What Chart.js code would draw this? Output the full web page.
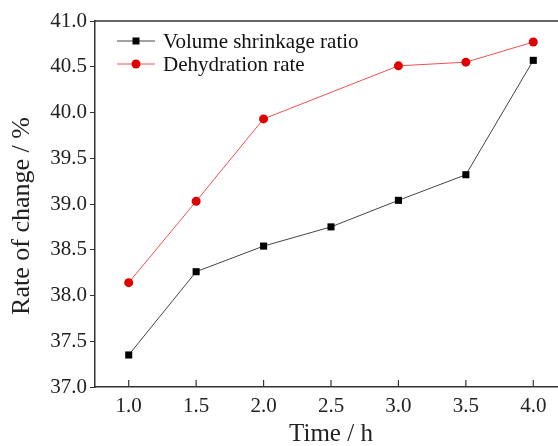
<!DOCTYPE html>
<html>
<head>
<meta charset="utf-8">
<script src="https://cdn.jsdelivr.net/npm/chart.js@4/dist/chart.umd.min.js"></script>
<style>
  html, body { margin: 0; padding: 0; background: #fff; overflow: hidden; }
  #wrap { width: 572px; height: 446px; }
</style>
</head>
<body>
<div id="wrap"><canvas id="chart" width="572" height="446"></canvas></div>
<script>
// values
var shrinkTime = [1.0, 1.5, 2.0, 2.5, 3.0, 3.5, 4.0];
var shrinkRatio = [37.35, 38.26, 38.54, 38.75, 39.04, 39.32, 40.57];
var dehydTime = [1.0, 1.5, 2.0, 3.0, 3.5, 4.0];
var dehydRate = [38.14, 39.03, 39.93, 40.51, 40.55, 40.77];
var xTicks = [1.0, 1.5, 2.0, 2.5, 3.0, 3.5, 4.0];
var yTitle = 'Rate of change / %';

function toPoints(xs, ys) {
    return xs.map(function (x, i) { return { x: x, y: ys[i] }; });
}

var serif = "'Liberation Serif', 'Times New Roman', serif";

// inward x ticks, top frame line, y title and the legend inside the plot
var extras = {
    id: 'extras',
    afterDraw: function (chart) {
        var ctx = chart.ctx;
        var area = chart.chartArea;
        var xs = chart.scales.x;
        ctx.save();
        ctx.strokeStyle = '#333';
        ctx.lineWidth = 1.5;
        ctx.beginPath();
        ctx.moveTo(area.left, area.top);
        ctx.lineTo(area.right, area.top);
        ctx.stroke();
        ctx.lineWidth = 1.2;
        xTicks.forEach(function (t) {
            var px = xs.getPixelForValue(t);
            ctx.beginPath();
            ctx.moveTo(px, area.bottom);
            ctx.lineTo(px, area.bottom - 7);
            ctx.stroke();
        });

        // y axis title, sits a bit below the middle of the axis in the original
        ctx.save();
        ctx.translate(22, 216);
        ctx.rotate(-Math.PI / 2);
        ctx.font = '26px ' + serif;
        ctx.fillStyle = '#222';
        ctx.textAlign = 'center';
        ctx.textBaseline = 'middle';
        ctx.fillText(yTitle, 0, 0);
        ctx.restore();

        ctx.font = '21px ' + serif;
        ctx.textBaseline = 'middle';
        chart.data.datasets.forEach(function (ds, i) {
            var y = 41 + i * 23;
            ctx.strokeStyle = ds.borderColor;
            ctx.lineWidth = 1;
            ctx.beginPath();
            ctx.moveTo(117, y);
            ctx.lineTo(155, y);
            ctx.stroke();
            ctx.fillStyle = ds.pointBackgroundColor;
            ctx.beginPath();
            if (ds.pointStyle === 'rect') {
                ctx.rect(136 - 3.5, y - 3.5, 7, 7);
            } else {
                ctx.arc(136, y, 4.5, 0, Math.PI * 2);
            }
            ctx.fill();
            ctx.fillStyle = '#111';
            ctx.fillText(ds.label, 163, y + 1);
        });
        ctx.restore();
    }
};

var ctx = document.getElementById('chart').getContext('2d');
var myChart = new Chart(ctx, {
    type: 'line',
    data: {
        datasets: [{
            label: 'Volume shrinkage ratio',
            data: toPoints(shrinkTime, shrinkRatio),
            borderColor: '#444',
            borderWidth: 1,
            pointStyle: 'rect',
            pointRadius: 5,
            pointBackgroundColor: '#000',
            pointBorderColor: '#000',
            pointBorderWidth: 0
        }, {
            label: 'Dehydration rate',
            data: toPoints(dehydTime, dehydRate),
            borderColor: '#f05050',
            borderWidth: 1,
            pointStyle: 'circle',
            pointRadius: 4.5,
            pointBackgroundColor: '#e00000',
            pointBorderColor: '#e00000',
            pointBorderWidth: 0
        }]
    },
    options: {
        responsive: false,
        animation: false,
        layout: { padding: { top: 21, right: 0, left: 0, bottom: 0 } },
        plugins: {
            legend: { display: false },
            tooltip: { enabled: false }
        },
        scales: {
            x: {
                type: 'linear',
                min: 0.75,
                max: 4.25,
                afterBuildTicks: function (scale) {
                    scale.ticks = xTicks.map(function (v) { return { value: v }; });
                },
                afterFit: function (scale) { scale.height = 59; },
                grid: { drawOnChartArea: false, drawTicks: false },
                border: { color: '#333', width: 1.5 },
                ticks: {
                    padding: 7,
                    color: '#222',
                    font: { family: serif, size: 21 },
                    callback: function (v) { return Number(v).toFixed(1); }
                },
                title: {
                    display: true,
                    text: 'Time / h',
                    color: '#222',
                    font: { family: serif, size: 25, lineHeight: 0.9 },
                    padding: { top: 4, bottom: 0 }
                }
            },
            y: {
                min: 37,
                max: 41,
                afterFit: function (scale) { scale.width = 95; },
                grid: { drawOnChartArea: false, tickLength: 5, tickColor: '#333' },
                border: { color: '#333', width: 1.5 },
                ticks: {
                    stepSize: 0.5,
                    padding: 3,
                    color: '#222',
                    font: { family: serif, size: 21 },
                    callback: function (v) { return Number(v).toFixed(1); }
                }
            }
        }
    },
    plugins: [extras]
});
</script>
</body>
</html>
